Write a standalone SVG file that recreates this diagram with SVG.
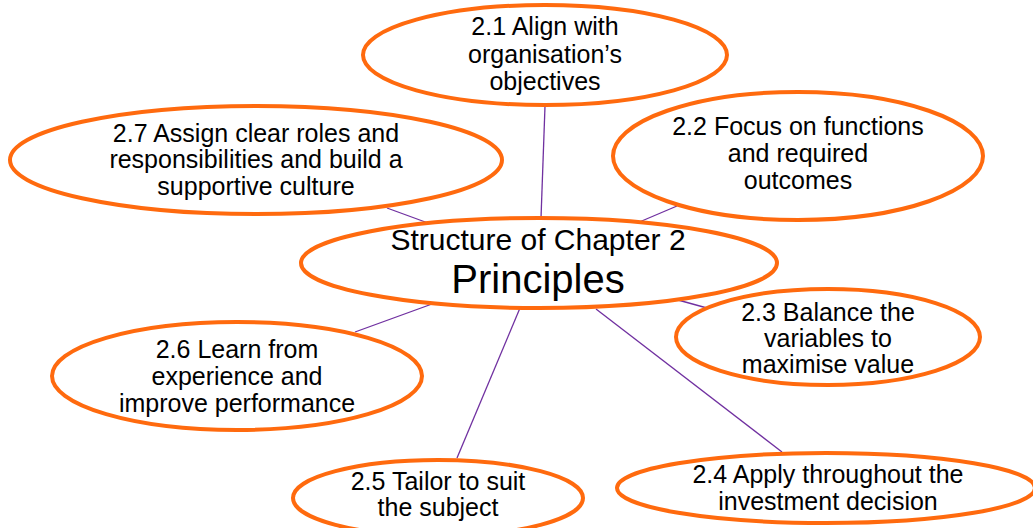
<svg xmlns="http://www.w3.org/2000/svg" width="1033" height="528" viewBox="0 0 1033 528">
<style>
.node ellipse{fill:#ffffff;stroke:#FF6A0E;stroke-width:4}
.node text{font-family:"Liberation Sans",Arial,sans-serif;font-size:25px;fill:#000;text-anchor:middle}
#connectors line{stroke:#7030A0;stroke-width:1.3}
</style>
<rect width="1033" height="528" fill="#ffffff"/>
<g id="connectors">
<line x1="545" y1="106" x2="541" y2="218"/>
<line x1="387" y1="208" x2="428" y2="223"/>
<line x1="677" y1="206" x2="637" y2="223"/>
<line x1="678" y1="300" x2="707" y2="308"/>
<line x1="596" y1="309" x2="782" y2="452"/>
<line x1="520" y1="308" x2="457" y2="458"/>
<line x1="432" y1="304" x2="355" y2="332"/>
</g>
<g id="n21" class="node">
<ellipse cx="545" cy="55" rx="182" ry="50"/>
<text x="545" y="35">2.1 Align with</text>
<text x="545" y="63">organisation’s</text>
<text x="545" y="90">objectives</text>
</g>
<g id="n27" class="node">
<ellipse cx="256" cy="160" rx="246" ry="54"/>
<text x="256" y="142">2.7 Assign clear roles and</text>
<text x="256" y="168">responsibilities and build a</text>
<text x="256" y="195">supportive culture</text>
</g>
<g id="n22" class="node">
<ellipse cx="798" cy="156" rx="185" ry="64"/>
<text x="798" y="135">2.2 Focus on functions</text>
<text x="798" y="162">and required</text>
<text x="798" y="189">outcomes</text>
</g>
<g id="center" class="node">
<ellipse cx="539" cy="263" rx="238" ry="45"/>
<text x="538" y="250" style="font-size:30px">Structure of Chapter 2</text>
<text x="538" y="293" style="font-size:40px">Principles</text>
</g>
<g id="n23" class="node">
<ellipse cx="828" cy="337" rx="152" ry="48"/>
<text x="828" y="321">2.3 Balance the</text>
<text x="828" y="347">variables to</text>
<text x="828" y="373">maximise value</text>
</g>
<g id="n26" class="node">
<ellipse cx="237" cy="376" rx="185" ry="54"/>
<text x="237" y="358">2.6 Learn from</text>
<text x="237" y="385">experience and</text>
<text x="237" y="412">improve performance</text>
</g>
<g id="n25" class="node">
<ellipse cx="438" cy="498" rx="145" ry="38"/>
<text x="438" y="490">2.5 Tailor to suit</text>
<text x="438" y="516">the subject</text>
</g>
<g id="n24" class="node">
<ellipse cx="826" cy="488" rx="209" ry="35"/>
<text x="828" y="483">2.4 Apply throughout the</text>
<text x="828" y="510">investment decision</text>
</g>
</svg>
